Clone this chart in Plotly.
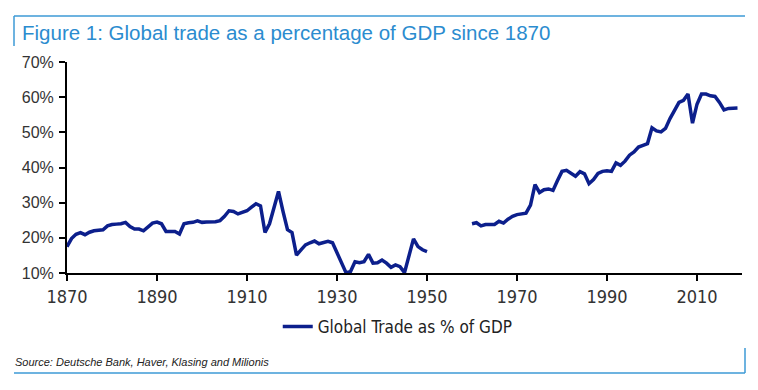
import plotly.graph_objects as go

years_early = list(range(1870, 1951))
trade_early = [17.5, 19.8, 21.0, 21.5, 20.9, 21.6, 22.0, 22.2, 22.3, 23.4,
               23.8, 23.9, 24.0, 24.4, 23.2, 22.5, 22.5, 22.0, 23.2, 24.2,
               24.5, 24.0, 21.8, 21.8, 21.8, 21.1, 24.0, 24.3, 24.4, 24.8,
               24.4, 24.5, 24.5, 24.6, 24.9, 26.1, 27.7, 27.5, 26.8, 27.3,
               27.7, 28.7, 29.7, 29.1, 21.5, 24.0, 28.5, 33.2, 27.5, 22.3,
               21.5, 15.1, 16.6, 18.0, 18.6, 19.1, 18.3, 18.7, 19.0, 18.6,
               15.6, 12.8, 10.1, 10.4, 13.2, 12.9, 13.2, 15.3, 12.8, 12.9,
               13.7, 12.8, 11.6, 12.3, 11.8, 10.1, 14.9, 19.7, 17.5, 16.6,
               16.1]
years_gap = list(range(1951, 1960))
years_late = list(range(1960, 2020))
trade_late = [24.0, 24.3, 23.4, 23.8, 23.8, 23.8, 24.7, 24.2, 25.3, 26.1,
              26.6, 26.7, 27.0, 29.3, 35.1, 32.9, 33.7, 33.9, 33.5, 36.3,
              38.9, 39.2, 38.3, 37.5, 38.8, 38.2, 35.4, 36.6, 38.3, 38.9,
              39.1, 38.9, 41.3, 40.6, 41.8, 43.5, 44.4, 45.8, 46.3, 46.8,
              51.3, 50.4, 50.1, 51.1, 53.9, 56.4, 58.5, 59.1, 60.9, 52.6,
              58.0, 60.9, 60.9, 60.4, 60.2, 58.5, 56.4, 56.8, 56.9, 56.9]

years = years_early + years_gap + years_late
trade = trade_early + [None] * len(years_gap) + trade_late

x_ticks = [1870, 1890, 1910, 1930, 1950, 1970, 1990, 2010]
y_ticks = [10, 20, 30, 40, 50, 60, 70]
y_tick_labels = ["10%", "20%", "30%", "40%", "50%", "60%", "70%"]

title_text = "Figure 1: Global trade as a percentage of GDP since 1870"
series_name = "Global Trade as % of GDP"
source_text = "Source: Deutsche Bank, Haver, Klasing and Milionis"

NARROW = "Liberation Sans Narrow, Arial Narrow, DejaVu Sans Condensed, sans-serif"
FRAME = "#3d9ad6"

# page has an 8px body margin: figure is 750x382 and placed at (8, 8)
W, H = 750, 382
OFF = 8

fig = go.Figure()
fig.add_trace(go.Scatter(x=years, y=trade, mode="lines", name=series_name,
                         line=dict(color="#0c1f8c", width=3.5),
                         connectgaps=False, showlegend=True))

fig.update_layout(
    width=W, height=H,
    margin=dict(l=67 - OFF, r=16, t=62 - OFF, b=117),
    paper_bgcolor="white", plot_bgcolor="white",
    title=dict(text=title_text, x=(22 - OFF) / W, xanchor="left", xref="container",
               y=1 - (33 - OFF) / H, yanchor="middle", yref="container",
               font=dict(family="Liberation Sans, Arial, sans-serif", size=20.5, color="#2b8ccf")),
    showlegend=True,
    legend=dict(orientation="h", x=0.49, xanchor="center", y=-0.256, yanchor="middle",
                font=dict(family=NARROW, size=17, color="#222"),
                itemwidth=30, bgcolor="rgba(0,0,0,0)"),
    xaxis=dict(range=[1870, 2020], tickvals=x_ticks, showgrid=False, zeroline=False,
               showline=True, linecolor="black", linewidth=2,
               ticks="outside", ticklen=6, tickwidth=2, tickcolor="black",
               tickfont=dict(family=NARROW, size=18, color="#333")),
    yaxis=dict(range=[10, 70], tickvals=y_ticks, ticktext=y_tick_labels, showgrid=False,
               zeroline=False, showline=True, linecolor="black", linewidth=2,
               ticks="outside", ticklen=6, tickwidth=2, tickcolor="black",
               ticklabelstandoff=2,
               tickfont=dict(family="Liberation Sans, Arial, sans-serif", size=16, color="#333")),
)

# helpers: page pixel -> paper coordinates (plot area spans page x 67..742, y 62..273)
def px_x(p):
    return (p - 67) / 675

def px_y(p):
    return 1 - (p - 62) / 211

shapes = [
    dict(type="line", xref="paper", yref="paper", x0=px_x(14), x1=px_x(745), y0=px_y(16), y1=px_y(16),
         line=dict(color=FRAME, width=1.5)),
    dict(type="line", xref="paper", yref="paper", x0=px_x(14), x1=px_x(14), y0=px_y(16), y1=px_y(46),
         line=dict(color=FRAME, width=1.5)),
    dict(type="line", xref="paper", yref="paper", x0=px_x(14), x1=px_x(745), y0=px_y(373), y1=px_y(373),
         line=dict(color=FRAME, width=1.5)),
    dict(type="line", xref="paper", yref="paper", x0=px_x(745), x1=px_x(745), y0=px_y(348), y1=px_y(373),
         line=dict(color=FRAME, width=1.5)),
]
fig.update_layout(shapes=shapes)

fig.add_annotation(text="<i>" + source_text + "</i>", xref="paper", yref="paper",
                   x=px_x(13), y=px_y(362), xanchor="left", yanchor="middle", showarrow=False,
                   font=dict(family="Liberation Sans, Arial, sans-serif", size=11, color="#222"))

fig.write_html("out.html")
